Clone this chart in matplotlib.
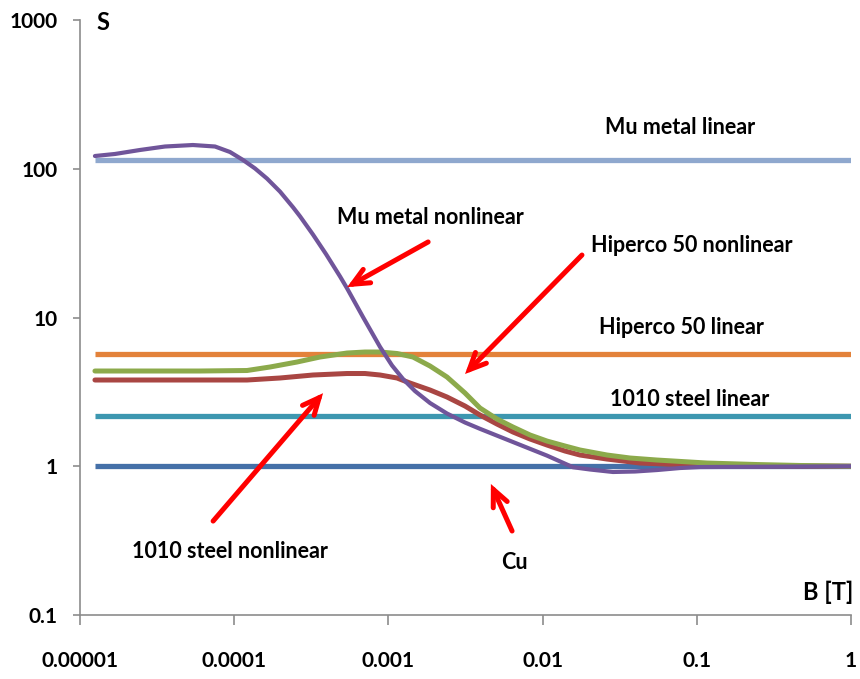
import matplotlib
matplotlib.use("Agg")
import matplotlib.pyplot as plt

# ---- data ----
b_lin = [1.25e-5, 1.0]
s_mu_lin = 115.0
s_hip_lin = 5.69
s_steel_lin = 2.18
s_cu = 1.0

b_mu = [1.25e-5, 1.687e-5, 2.449e-5, 3.557e-5, 5.40e-5, 7.51e-5, 9.39e-5, 1.141e-4,
        1.364e-4, 1.632e-4, 1.982e-4, 2.406e-4, 2.671e-4, 3.243e-4, 3.938e-4, 4.854e-4,
        5.39e-4, 6.84e-4, 8.82e-4, 1.055e-3, 1.244e-3, 1.487e-3, 1.862e-3, 2.399e-3,
        3.139e-3, 3.926e-3, 6.427e-3, 0.01068, 0.01574, 0.0203, 0.02860, 0.03973,
        0.05516, 0.0778, 0.1049, 1.0]
s_mu = [121.8, 125.7, 133.7, 141.1, 144.4, 141.1, 129.6, 114.5,
        100.5, 85.9, 70.2, 55.1, 47.9, 36.1, 26.7, 18.89,
        15.73, 10.08, 6.35, 4.763, 3.860, 3.204, 2.661, 2.262,
        1.968, 1.785, 1.455, 1.179, 0.985, 0.951, 0.915, 0.922,
        0.943, 0.973, 0.988, 1.0]

b_hip = [1.25e-5, 2.845e-5, 6.00e-5, 1.211e-4, 1.707e-4, 2.554e-4, 3.600e-4, 5.39e-4,
         7.05e-4, 8.82e-4, 1.137e-3, 1.443e-3, 1.862e-3, 2.399e-3, 3.139e-3, 3.926e-3,
         5.06e-3, 6.427e-3, 8.29e-3, 0.01068, 0.01397, 0.01748, 0.02616, 0.03687,
         0.05516, 0.1164, 0.2458, 0.4669, 1.0]
s_hip = [4.368, 4.368, 4.368, 4.402, 4.647, 5.020, 5.424, 5.770,
         5.861, 5.861, 5.727, 5.424, 4.719, 3.980, 3.107, 2.463,
         2.078, 1.835, 1.622, 1.477, 1.368, 1.286, 1.190, 1.136,
         1.101, 1.051, 1.027, 1.012, 1.0]

b_steel = [1.25e-5, 2.845e-5, 6.00e-5, 1.211e-4, 1.982e-4, 3.243e-4, 5.39e-4, 7.05e-4,
           8.82e-4, 1.137e-3, 1.380e-3, 1.862e-3, 2.399e-3, 3.139e-3, 3.926e-3, 5.06e-3,
           6.427e-3, 8.29e-3, 0.01068, 0.01397, 0.01748, 0.02616, 0.04282, 0.0903,
           0.2213, 1.0]
s_steel = [3.80, 3.80, 3.80, 3.80, 3.920, 4.106, 4.202, 4.202,
           4.106, 3.920, 3.627, 3.254, 2.920, 2.540, 2.210, 1.922,
           1.699, 1.525, 1.389, 1.266, 1.190, 1.118, 1.051, 1.019,
           1.005, 1.0]

x_ticks = [1e-5, 1e-4, 1e-3, 1e-2, 1e-1, 1]
x_tick_labels = ["0.00001", "0.0001", "0.001", "0.01", "0.1", "1"]
y_ticks = [0.1, 1, 10, 100, 1000]
y_tick_labels = ["0.1", "1", "10", "100", "1000"]

FONT = "Lato"
plt.rcParams['font.family'] = [FONT, 'DejaVu Sans']

fig = plt.figure(figsize=(8.6, 6.79), dpi=100)
ax = fig.add_axes([80/860, 1-615/679, (851-80)/860, (615-20)/679])
ax.set_xscale('log')
ax.set_yscale('log')
ax.set_xlim(1e-5, 1)
ax.set_ylim(0.1, 1000)

lw_h = 3.8
ax.plot(b_lin, [s_mu_lin]*2, color="#8FA8CE", lw=lw_h, solid_capstyle='butt')
ax.plot(b_lin, [s_hip_lin]*2, color="#E3823A", lw=lw_h, solid_capstyle='butt')
ax.plot(b_lin, [s_steel_lin]*2, color="#3D97B0", lw=lw_h, solid_capstyle='butt')
ax.plot(b_lin, [s_cu]*2, color="#4570A8", lw=lw_h, solid_capstyle='butt')
ax.plot(b_steel, s_steel, color="#A94643", lw=3.6, solid_joinstyle='round',
        solid_capstyle='round')
ax.plot(b_hip, s_hip, color="#8CAA4B", lw=3.6, solid_joinstyle='round',
        solid_capstyle='round')
ax.plot(b_mu, s_mu, color="#70559A", lw=3.0, solid_joinstyle='round',
        solid_capstyle='round')

for s in ['top', 'right']:
    ax.spines[s].set_visible(False)
for s in ['left', 'bottom']:
    ax.spines[s].set_color("#8C8C8C")
    ax.spines[s].set_linewidth(1.2)

ax.set_xticks(x_ticks)
ax.set_xticklabels(x_tick_labels)
ax.set_yticks(y_ticks)
ax.set_yticklabels(y_tick_labels)
ax.minorticks_off()
ax.tick_params(axis='x', length=7, width=1.2, color="#8C8C8C", pad=19,
               labelsize=15)
ax.tick_params(axis='y', length=5, width=1.2, color="#8C8C8C", pad=11,
               labelsize=15)
for lab in ax.get_xticklabels() + ax.get_yticklabels():
    lab.set_fontweight('bold')

tkw = dict(fontsize=15.5, fontweight='bold', ha='center', va='center')
ax.text(1.41e-5, 960, "S", fontsize=17, fontweight='bold', ha='center', va='center')
ax.text(0.0778, 188, "Mu metal linear", **tkw)
ax.text(1.86e-3, 46.7, "Mu metal nonlinear", **tkw)
ax.text(0.093, 30.7, "Hiperco 50 nonlinear", **tkw)
ax.text(0.080, 8.63, "Hiperco 50 linear", **tkw)
ax.text(0.0904, 2.79, "1010 steel linear", **tkw)
ax.text(9.4e-5, 0.266, "1010 steel nonlinear", **tkw)
ax.text(6.53e-3, 0.224, "Cu", **tkw)
ax.text(0.71, 0.143, "B [T]", fontsize=17, fontweight='bold', ha='center', va='center')

akw = dict(arrowstyle="->,head_length=1.2,head_width=0.55", color="#FF0000",
           lw=3.6, shrinkA=0, shrinkB=0, capstyle='round', joinstyle='miter')
ax.annotate("", xy=(5.4e-4, 16.0), xytext=(1.81e-3, 32.2), arrowprops=akw)
ax.annotate("", xy=(3.14e-3, 4.17), xytext=(0.018, 26.3), arrowprops=akw)
ax.annotate("", xy=(3.77e-4, 3.10), xytext=(7.3e-5, 0.428), arrowprops=akw)
ax.annotate("", xy=(4.62e-3, 0.760), xytext=(6.34e-3, 0.367), arrowprops=akw)

fig.savefig("out.png", dpi=100)
